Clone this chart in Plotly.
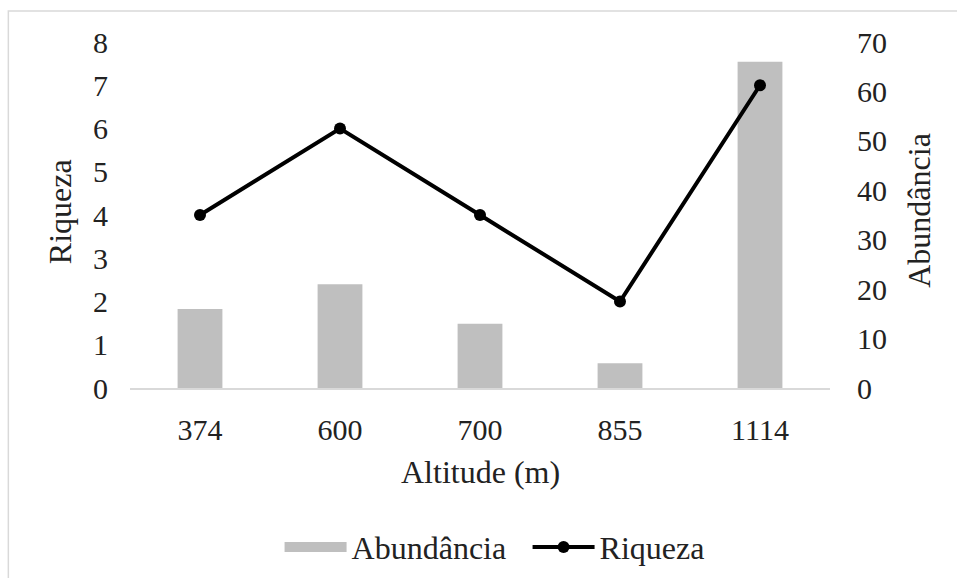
import plotly.graph_objects as go

altitudes = ["374", "600", "700", "855", "1114"]
abundancia = [16, 21, 13, 5, 66]
riqueza = [4, 6, 4, 2, 7]
riqueza_ticks = [0, 1, 2, 3, 4, 5, 6, 7, 8]
abund_ticks = [0, 10, 20, 30, 40, 50, 60, 70]

FONT = "Liberation Serif, Times New Roman, DejaVu Serif, serif"
TXT = "#222222"
FS_TICK = 30
FS = 32

fig = go.Figure()
fig.add_trace(go.Bar(x=altitudes, y=abundancia, name="Abundância",
                     marker=dict(color="#BFBFBF", line=dict(width=0)),
                     yaxis="y", showlegend=False))
# legend proxy for the bar series (wide grey swatch)
fig.add_trace(go.Scatter(x=[altitudes[0]], y=[None], name="Abundância", mode="lines",
                         line=dict(color="#BFBFBF", width=15), yaxis="y", showlegend=True))
fig.add_trace(go.Scatter(x=altitudes, y=riqueza, name="Riqueza", mode="lines+markers",
                         line=dict(color="black", width=4),
                         marker=dict(color="black", size=12), yaxis="y2"))

fig.update_layout(
    width=957, height=578,
    margin=dict(l=130, r=127, t=42, b=190, autoexpand=False),
    paper_bgcolor="white", plot_bgcolor="white",
    font=dict(family=FONT, size=FS, color=TXT),
    bargap=0.68,
    xaxis=dict(type="category", showline=True, linecolor="#D9D9D9", linewidth=1.5,
               showgrid=False, zeroline=False, ticks="", ticklabelstandoff=14,
               automargin=False, tickfont=dict(family=FONT, size=FS_TICK, color=TXT)),
    yaxis=dict(side="right", range=[0, 70], tickvals=abund_ticks, showgrid=False,
               zeroline=False, showline=False, ticks="", ticklabelstandoff=26,
               automargin=False, tickfont=dict(family=FONT, size=FS_TICK, color=TXT)),
    yaxis2=dict(side="left", overlaying="y", range=[0, 8], tickvals=riqueza_ticks,
                showgrid=False, zeroline=False, showline=False, ticks="",
                ticklabelstandoff=21, automargin=False,
                tickfont=dict(family=FONT, size=FS_TICK, color=TXT)),
    legend=dict(orientation="h", x=(280 - 130) / 702, xanchor="left", y=-0.46, yanchor="middle",
                font=dict(family=FONT, size=FS, color=TXT), itemwidth=62,
                entrywidth=171, entrywidthmode="pixels", tracegroupgap=0,
                bgcolor="rgba(0,0,0,0)"),
    showlegend=True,
)

fig.add_annotation(text="Riqueza", xref="paper", yref="paper", x=(60 - 130) / 702, y=(388 - 212) / 346,
                   textangle=-90, showarrow=False, xanchor="center", yanchor="middle",
                   font=dict(family=FONT, size=FS, color=TXT))
fig.add_annotation(text="Abundância", xref="paper", yref="paper", x=(921 - 130) / 702, y=(388 - 210) / 346,
                   textangle=-90, showarrow=False, xanchor="center", yanchor="middle",
                   font=dict(family=FONT, size=FS, color=TXT))
fig.add_annotation(text="Altitude (m)", xref="paper", yref="paper", x=(481 - 130) / 702, y=(388 - 472) / 346,
                   showarrow=False, xanchor="center", yanchor="middle",
                   font=dict(family=FONT, size=FS, color=TXT))

fig.add_shape(type="rect", xref="paper", yref="paper",
              x0=(8 - 130) / 702, x1=(1000 - 130) / 702,
              y0=(388 - 620) / 346, y1=(388 - 11) / 346,
              line=dict(color="#D9D9D9", width=1.5), fillcolor="rgba(0,0,0,0)", layer="below")

fig.write_html("out.html", config={"displayModeBar": False},
               post_script="document.body.style.margin='0';")
